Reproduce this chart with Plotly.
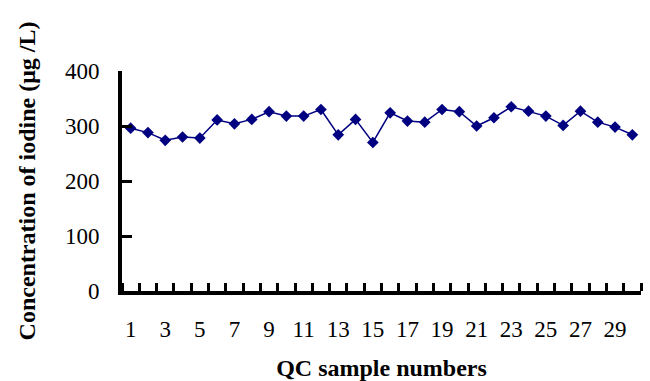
import plotly.graph_objects as go

samples = list(range(1, 31))
iodine = [296, 288, 274, 280, 278, 311, 304, 312, 326, 318,
          318, 330, 284, 312, 270, 324, 309, 307, 330, 326,
          300, 315, 335, 327, 318, 301, 327, 307, 298, 284]
x_tick_vals = list(range(1, 30, 2))
x_tick_text = [str(v) for v in x_tick_vals]
y_tick_vals = [0, 100, 200, 300, 400]

FONT = "Liberation Serif"

fig = go.Figure()
fig.add_trace(go.Scatter(
    x=samples, y=iodine, mode="lines+markers",
    line=dict(color="#000080", width=1.5),
    marker=dict(symbol="diamond", size=9, color="#000080"),
    showlegend=False,
))

fig.update_layout(
    width=650, height=381, autosize=False,
    margin=dict(l=122, r=9, t=71, b=90),
    plot_bgcolor="white", paper_bgcolor="white",
    font=dict(family=FONT, size=24, color="black"),
)
fig.update_xaxes(
    range=[0.5, 30.5], showgrid=False, zeroline=False, automargin=False,
    showline=True, linecolor="black", linewidth=4,
    tickmode="array", tickvals=x_tick_vals, ticktext=x_tick_text,
    ticks="", ticklabelstandoff=14,
    tickfont=dict(family=FONT, size=23, color="black"),
    minor=dict(tickmode="array", tickvals=[i + 0.5 for i in range(0, 31)],
               ticks="inside", ticklen=8, tickwidth=3, tickcolor="black", showgrid=False),
    title=dict(text="<b>QC sample numbers</b>", standoff=27,
               font=dict(family=FONT, size=24, color="black")),
)
fig.update_yaxes(
    range=[0, 400], showgrid=False, zeroline=False, automargin=False,
    showline=True, linecolor="black", linewidth=4,
    tickmode="array", tickvals=y_tick_vals,
    ticks="inside", ticklen=10, tickwidth=3, tickcolor="black",
    ticklabelstandoff=14,
    tickfont=dict(family=FONT, size=23, color="black"),
    title=dict(text="<b>Concentration of iodine (μg /L)</b>", standoff=24,
               font=dict(family=FONT, size=24, color="black")),
)

fig.write_html("out.html")
